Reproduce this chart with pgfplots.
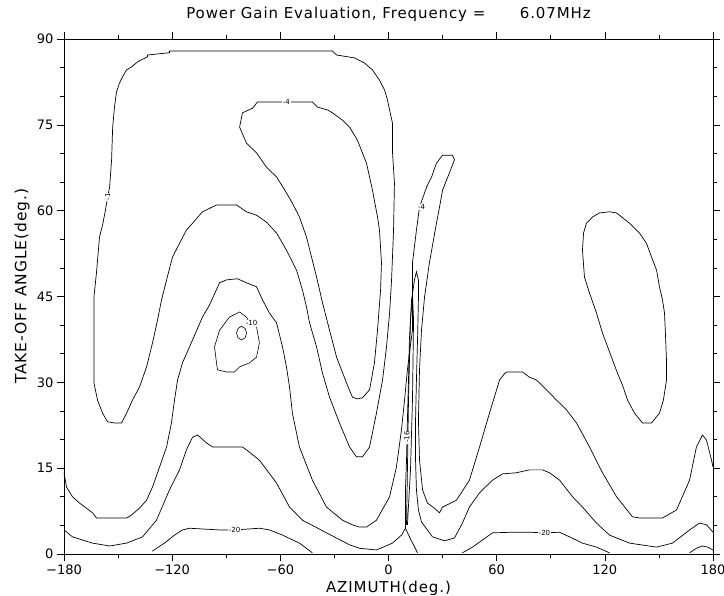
\documentclass[border=0pt]{standalone}
\usepackage{fontspec}
\setmainfont{DejaVu Sans}
\newfontfamily\labelfont{DejaVu Sans}[LetterSpace=6]
\usepackage{pgfplots}
\pgfplotsset{compat=1.18}
\begin{document}
\begin{tikzpicture}[x=1pt,y=1pt]
\path[use as bounding box] (0,0) rectangle (724,596);
\begin{axis}[
  at={(64pt,42pt)}, anchor=south west,
  width=649pt, height=515pt, scale only axis,
  xmin=-180, xmax=180, ymin=0, ymax=90,
  xtick={-180,-120,-60,0,60,120,180},
  xticklabels={−180,−120,−60,0,60,120,180},
  minor xtick={-150,-90,-30,30,90,150},
  ytick={0,15,30,45,60,75,90},
  yticklabels={0,15,30,45,60,75,90},
  minor ytick={5,10,20,25,35,40,50,55,65,70,80,85},
  tick align=outside,
  major tick length=7pt, minor tick length=4pt,
  every tick/.style={black, line width=0.6pt},
  axis line style={black, line width=0.8pt},
  ticklabel style={font=\fontsize{13}{13}\selectfont},
  title={Power Gain Evaluation, Frequency =\hspace{2.3em}6.07MHz},
  title style={font=\labelfont\fontsize{15}{15}\selectfont, at={(axis description cs:0.5,1)}, anchor=base, yshift=14pt},
  xlabel={AZIMUTH(deg.)},
  xlabel style={font=\labelfont\fontsize{15}{15}\selectfont, at={(axis description cs:0.5,0)}, anchor=base, yshift=-39pt},
  ylabel={TAKE-OFF ANGLE(deg.)},
  ylabel style={font=\labelfont\fontsize{15.5}{16}\selectfont, at={(axis description cs:-0.058,0.52)}, anchor=base},
  clip=false,
]
% big outer contour (-1)
\addplot[black, line width=0.7pt, no marks] coordinates {
(-121.5,87.9) (-121.5,87.6) (-133.7,87.2) (-133.7,86.9) (-139.2,86.0) (-142.6,85.1) (-145.3,84.6)
(-147.5,83.4) (-149.2,82.3) (-150.9,80.7) (-152.0,78.1) (-153.0,74.6) (-153.6,68.9) (-154.7,64.1)
(-155.8,62.4) (-157.0,60.1) (-158.6,57.5) (-160.3,55.4) (-162.0,49.1) (-163.4,44.9) (-163.4,29.9)
(-161.4,26.9) (-158.6,24.6) (-155.8,23.1) (-152.0,22.9) (-148.1,22.9) (-145.3,24.6) (-142.0,26.9)
(-138.1,29.2) (-134.2,32.7) (-130.9,36.9) (-128.1,40.9) (-125.9,44.4) (-123.1,47.9) (-119.8,51.9)
(-115.9,54.3) (-112.1,56.6) (-108.7,57.8) (-103.2,59.8) (-95.4,61.0) (-84.3,61.0) (-78.8,59.8)
(-73.2,59.2) (-67.7,58.0) (-62.1,56.1) (-56.6,53.1) (-51.0,49.6) (-47.7,46.1) (-45.5,43.2)
(-43.8,40.4) (-39.9,36.2) (-36.6,31.6) (-32.7,27.4) (-27.2,22.9) (-21.6,18.7) (-17.8,17.0)
(-14.4,17.0) (-10.5,18.7) (-6.7,24.6) (-3.3,30.4) (-1.1,36.2) (0.6,42.1) (1.7,47.9) (2.8,56.6)
(3.3,64.8) (2.2,70.3) (2.2,75.3) (0.6,77.6) (-0.6,79.4) (-2.2,81.1) (-5.0,82.8) (-8.9,84.6)
(-13.3,85.8) (-18.9,86.7) (-28.8,87.2) (-31.1,87.9) (-121.5,87.9)
};
% inner loop (-4)
\addplot[black, line width=0.7pt, no marks] coordinates {
(-82.6,74.6) (-81.0,77.1) (-75.4,77.9) (-72.7,79.0) (-56.6,79.0) (-42.2,79.0) (-39.4,78.1)
(-33.8,77.6) (-31.1,77.1) (-25.5,75.8) (-21.6,74.6) (-17.2,72.3) (-12.2,68.3) (-8.9,63.6)
(-6.1,58.9) (-5.0,56.6) (-3.9,50.9) (-4.4,46.1) (-6.1,39.1) (-7.8,33.4) (-10.5,28.7) (-14.4,27.3)
(-17.2,27.1) (-20.0,27.4) (-23.3,29.9) (-28.8,34.4) (-32.7,39.1) (-36.6,43.9) (-39.9,48.4)
(-42.7,51.9) (-45.5,55.4) (-49.4,58.9) (-53.3,61.3) (-56.6,63.1) (-62.1,65.9) (-67.7,67.6)
(-73.2,70.1) (-78.8,71.8) (-82.6,74.6)
};
% contour C / spike / G
\addplot[black, line width=0.7pt, no marks] coordinates {
(-180,14.2) (-178.6,11.7) (-175.3,10.0) (-171.4,8.9) (-167.5,8.0) (-164.2,7.2) (-162.0,6.3)
(-145.3,6.3) (-142.6,6.8) (-138.1,8.0) (-134.2,9.4) (-130.9,11.7) (-127.0,15.2) (-123.1,18.7)
(-120.4,22.9) (-118.7,26.9) (-117.0,30.4) (-114.3,33.4) (-108.7,37.4) (-103.2,41.4) (-99.3,43.5)
(-93.7,47.4) (-89.9,47.9) (-83.8,48.1) (-78.8,47.4) (-73.2,46.7) (-69.9,44.4) (-66.0,42.1)
(-62.1,40.4) (-58.8,36.2) (-56.6,32.7) (-54.9,29.2) (-53.3,24.6) (-49.4,18.7) (-42.2,12.9)
(-34.4,8.2) (-25.5,5.9) (-20.0,5.1) (-16.1,4.7) (-12.2,4.7) (-6.7,5.9) (0.6,10.0) (4.4,15.2)
(7.2,21.7) (8.9,26.9) (10.5,32.2) (12.2,36.5) (13.3,39.1) (13.3,50.9) (15.5,56.6) (17.2,60.6)
(21.1,64.1) (23.9,65.9) (26.6,68.3) (30.0,69.7) (35.5,69.7) (36.6,68.9) (33.8,66.6) (30.0,63.6)
(28.3,60.6) (26.6,57.8) (22.7,50.9) (20.0,44.9) (18.3,39.1) (17.2,32.2) (16.6,23.4) (17.2,16.4)
(18.9,11.2) (21.6,8.9) (25.5,8.0) (28.3,7.2) (30.0,8.2) (37.7,9.4) (44.9,12.9) (50.5,18.7)
(56.0,24.6) (61.6,30.4) (64.3,31.5) (65.5,31.8) (74.3,31.8) (78.2,30.9) (82.1,30.4) (87.6,28.7)
(93.2,26.9) (98.7,25.2) (104.3,22.9) (111.5,18.7) (118.7,14.2) (126.5,10.0) (135.3,6.5)
(139.2,6.3) (152.0,6.3) (159.8,7.7) (167.0,12.9) (170.8,18.7) (174.2,20.8) (176.4,19.9)
(179.2,16.4) (180,15.2)
};
% contour F / spike / H
\addplot[black, line width=0.7pt, no marks] coordinates {
(-180,4.2) (-175.3,3.0) (-164.2,1.9) (-154.7,1.4) (-145.3,1.9) (-136.4,3.0) (-128.7,5.9)
(-121.5,11.2) (-115.9,14.7) (-112.1,18.2) (-108.7,20.4) (-105.9,20.8) (-100.9,19.4) (-97.6,18.7)
(-81.0,18.7) (-78.8,18.2) (-71.6,16.4) (-62.1,12.4) (-54.9,8.2) (-47.7,5.9) (-34.4,3.7)
(-21.6,1.6) (-16.1,1.0) (-6.7,0.7) (2.2,1.9) (7.2,3.3) (9.4,4.5) (9.4,11.2) (10.0,16.4)
(10.5,23.4) (11.1,30.4) (11.6,37.4) (12.8,44.4) (14.4,47.9) (15.5,49.3) (16.6,47.9) (16.6,44.4)
(16.1,37.4) (15.5,30.4) (15.0,23.4) (15.0,16.4) (15.5,11.2) (16.6,7.7) (18.3,5.6) (24.4,3.0)
(31.1,2.3) (36.6,2.8) (41.0,5.4) (44.9,8.2) (50.5,10.7) (57.7,12.9) (63.2,14.0) (71.0,14.2)
(78.2,14.7) (85.4,14.7) (89.3,14.2) (94.9,12.9) (102.1,10.0) (107.6,8.2) (115.4,5.4)
(122.6,3.3) (133.7,1.9) (148.7,1.2) (157.5,1.9) (167.0,4.2) (172.5,5.4) (176.4,5.1) (180,3.8)
};
% tent at spike base
\addplot[black, line width=0.7pt, no marks] coordinates {
(9.4,4.5) (11.6,3.0) (13.9,1.6) (16.1,0.2)
};
% innermost spike
\addplot[black, line width=0.7pt, no marks] coordinates {
(10.0,5.1) (10.5,14.7) (11.1,26.9) (12.2,40.9) (13.3,45.3) (13.9,40.9) (13.3,26.9) (12.2,14.7) (10.5,5.1)
};
% -20 left
\addplot[black, line width=0.7pt, no marks] coordinates {
(-131.0,0.5) (-124.3,1.9) (-118.7,3.3) (-114.3,4.2) (-110.4,4.5) (-93.7,4.2) (-85.4,4.2)
(-71.6,4.5) (-66.0,4.2) (-58.8,3.3) (-49.4,1.9) (-42.2,0.2)
};
% -20 right
\addplot[black, line width=0.7pt, no marks] coordinates {
(41.0,0.2) (46.6,1.2) (57.7,3.7) (68.8,3.8) (78.2,3.8) (86.5,3.7) (94.9,3.8) (100.4,3.0)
(107.6,1.9) (115.4,1.2) (122.6,0.2)
};
% small bump near 180
\addplot[black, line width=0.7pt, no marks] coordinates {
(167.0,0.2) (170.8,1.0) (174.2,1.4) (177.0,1.2) (180,0.7)
};
% small loop near (-85,38)
\addplot[black, line width=0.6pt, no marks] coordinates {
(-95.4,33.4) (-96.5,36.2) (-93.7,39.1) (-88.2,41.4) (-82.6,42.3) (-78.8,41.4) (-77.1,40.4)
(-73.2,39.7) (-71.6,36.9) (-73.2,34.4) (-77.1,33.4) (-82.6,32.7) (-85.4,31.8) (-89.9,31.8)
(-94.9,32.2) (-95.4,33.4)
};
\addplot[black, line width=0.6pt, no marks] coordinates {
(-81.5,39.8) (-79.5,39.4) (-78.7,38.6) (-79.5,37.8) (-81.5,37.4) (-83.5,37.8) (-84.3,38.6) (-83.5,39.4) (-81.5,39.8)
};
% right loop
\addplot[black, line width=0.7pt, no marks] coordinates {
(122.6,59.8) (126.5,59.6) (133.7,57.8) (139.2,56.1) (143.1,54.3) (145.9,51.9) (148.7,49.6)
(150.3,46.7) (152.0,44.4) (153.1,42.1) (153.6,38.6) (154.2,33.9) (154.2,30.4) (152.5,26.9)
(150.3,24.6) (145.9,22.9) (140.9,22.9) (136.5,24.6) (132.6,26.9) (129.8,29.5) (127.0,31.6)
(123.7,34.4) (118.7,38.6) (115.4,42.1) (111.5,45.6) (108.7,48.4) (107.6,53.1) (108.2,56.1)
(109.8,57.8) (113.2,58.9) (117.0,59.6) (122.6,59.8)
};
% right-axis ticks
\pgfplotsinvokeforeach{5,10,15,20,25,30,35,40,45,50}{
  \draw[black, line width=0.6pt] (axis cs:180,#1) -- ++(4pt,0pt);
}
% contour labels
\tikzset{clab/.style={fill=white, inner sep=0.6pt, font=\fontsize{7}{7}\selectfont}}
\node[clab, rotate=90] at (axis cs:-155.8,62.4) {-1};
\node[clab] at (axis cs:-56.6,79.0) {-4};
\node[clab] at (axis cs:18.3,60.6) {-4};
\node[clab] at (axis cs:-76,40.3) {-10};
\node[clab, rotate=90] at (axis cs:10.2,20.4) {-16};
\node[clab] at (axis cs:-85.4,4.2) {-20};
\node[clab] at (axis cs:86.5,3.7) {-20};
\end{axis}
\end{tikzpicture}
\end{document}
